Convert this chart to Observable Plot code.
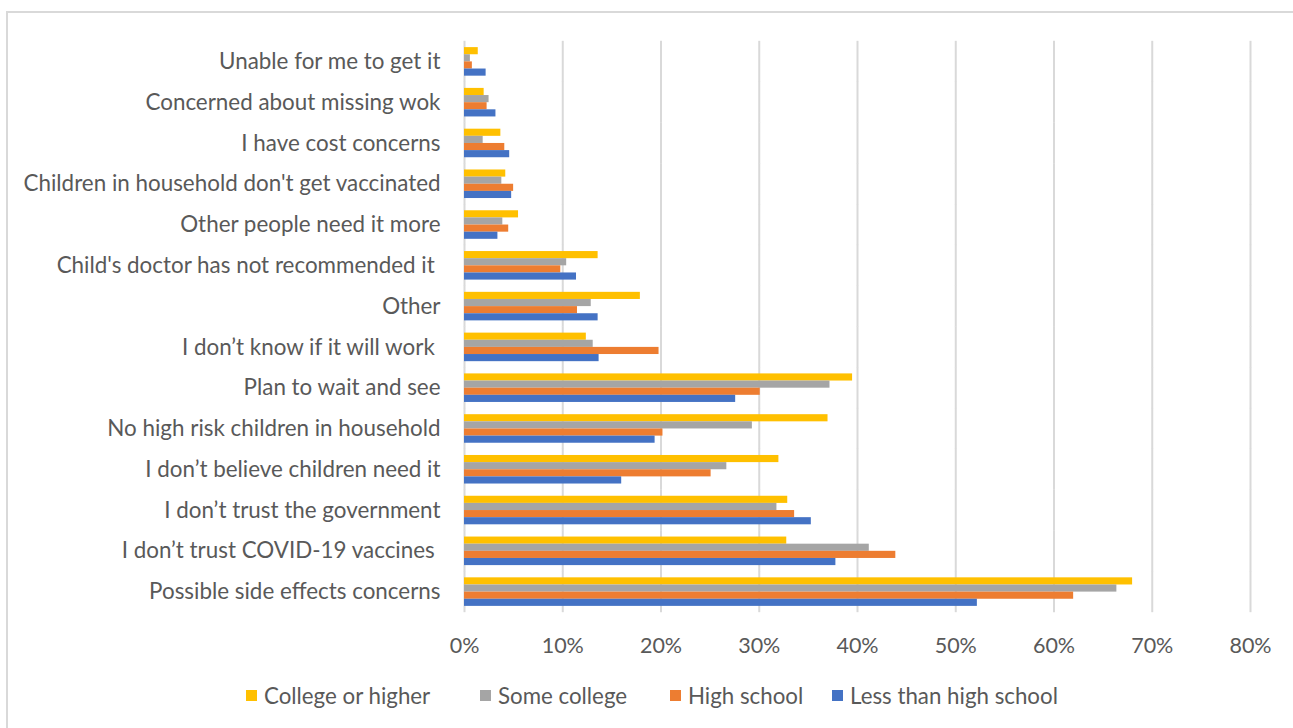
<!DOCTYPE html>
<html>
<head>
<meta charset="utf-8">
<script src="https://cdn.jsdelivr.net/npm/d3@7"></script>
<script src="https://cdn.jsdelivr.net/npm/@observablehq/plot@0.6"></script>
<style>
  html, body { margin: 0; padding: 0; background: #fff; overflow: hidden; }
  #wrap { position: relative; width: 1293px; height: 728px; }
  #frame { position: absolute; left: 6px; top: 11px; width: 1400px; height: 800px;
           border-left: 2px solid #d9d9d9; border-top: 2px solid #d9d9d9; box-sizing: border-box; }
  #chart { position: absolute; left: 0; top: 0; }
  svg text { white-space: pre; }
  .legend { position: absolute; top: 681px; left: 0; width: 1293px; height: 28px;
            font-family: Lato, sans-serif; font-size: 22.3px; color: #595959; }
  .item { position: absolute; top: 0; display: flex; align-items: center; height: 28px; white-space: nowrap; }
  .sw { width: 11px; height: 11px; margin-right: 7px; }
</style>
</head>
<body>
<div id="wrap">
  <div id="frame"></div>
  <div id="chart"></div>
  <div class="legend" id="legend"></div>
</div>
<script>
// ---- data ----
const categories = [
  "Unable for me to get it",
  "Concerned about missing wok",
  "I have cost concerns",
  "Children in household don't get vaccinated",
  "Other people need it more",
  "Child's doctor has not recommended it ",
  "Other",
  "I don\u2019t know if it will work ",
  "Plan to wait and see",
  "No high risk children in household",
  "I don\u2019t believe children need it",
  "I don\u2019t trust the government",
  "I don\u2019t trust COVID-19 vaccines ",
  "Possible side effects concerns"
];
const series = ["College or higher", "Some college", "High school", "Less than high school"];
const seriesColors = ["#FFC000", "#A5A5A5", "#ED7D31", "#4472C4"];
const collegeOrHigher    = [1.4, 2.0, 3.7, 4.2, 5.5, 13.6, 17.9, 12.4, 39.5, 37.0, 32.0, 32.9, 32.8, 68.0];
const someCollege        = [0.6, 2.5, 1.9, 3.8, 3.9, 10.4, 12.9, 13.1, 37.2, 29.3, 26.7, 31.8, 41.2, 66.4];
const highSchool         = [0.8, 2.3, 4.1, 5.0, 4.5,  9.8, 11.5, 19.8, 30.1, 20.2, 25.1, 33.6, 43.9, 62.0];
const lessThanHighSchool = [2.2, 3.2, 4.6, 4.8, 3.4, 11.4, 13.6, 13.7, 27.6, 19.4, 16.0, 35.3, 37.8, 52.2];
const xTicks = [0, 10, 20, 30, 40, 50, 60, 70, 80];

const seriesValues = [collegeOrHigher, someCollege, highSchool, lessThanHighSchool];
const table = categories.flatMap((c, i) =>
  series.map((s, j) => ({category: c, series: s, value: seriesValues[j][i]})));

const textColor = "#595959";
const gridExtend = -6.3; // extend each facet's gridline across the gaps between groups

const chart = Plot.plot({
  width: 1293,
  height: 670,
  marginTop: 41,
  marginBottom: 58,
  marginLeft: 464,
  marginRight: 43,
  style: {fontFamily: "Lato, sans-serif", color: textColor, background: "transparent", overflow: "visible"},
  x: {domain: [0, 80]},
  fy: {domain: categories, paddingInner: 0.3, paddingOuter: 0.15, round: false},
  y: {domain: series, axis: null, padding: 0, round: false},
  color: {domain: series, range: seriesColors},
  marks: [
    Plot.ruleX(xTicks, {x: d => d, stroke: "#d9d9d9", strokeWidth: 2, insetTop: gridExtend, insetBottom: gridExtend}),
    Plot.barX(table, {fy: "category", y: "series", x: "value", fill: "series"}),
    Plot.axisFy({anchor: "left", tickSize: 0, tickPadding: 24, fontSize: 22.4, label: null, fill: textColor}),
    Plot.axisX({ticks: xTicks, tickFormat: d => d + "%", tickSize: 0, tickPadding: 31, fontSize: 21.5, label: null, fill: textColor})
  ]
});
document.getElementById("chart").appendChild(chart);

// legend
const legendLefts = [246, 480, 670, 832];
const legend = document.getElementById("legend");
series.forEach((s, j) => {
  const item = document.createElement("div");
  item.className = "item";
  item.style.left = legendLefts[j] + "px";
  const sw = document.createElement("div");
  sw.className = "sw";
  sw.style.background = seriesColors[j];
  const label = document.createElement("span");
  label.textContent = s;
  item.appendChild(sw);
  item.appendChild(label);
  legend.appendChild(item);
});
</script>
</body>
</html>
